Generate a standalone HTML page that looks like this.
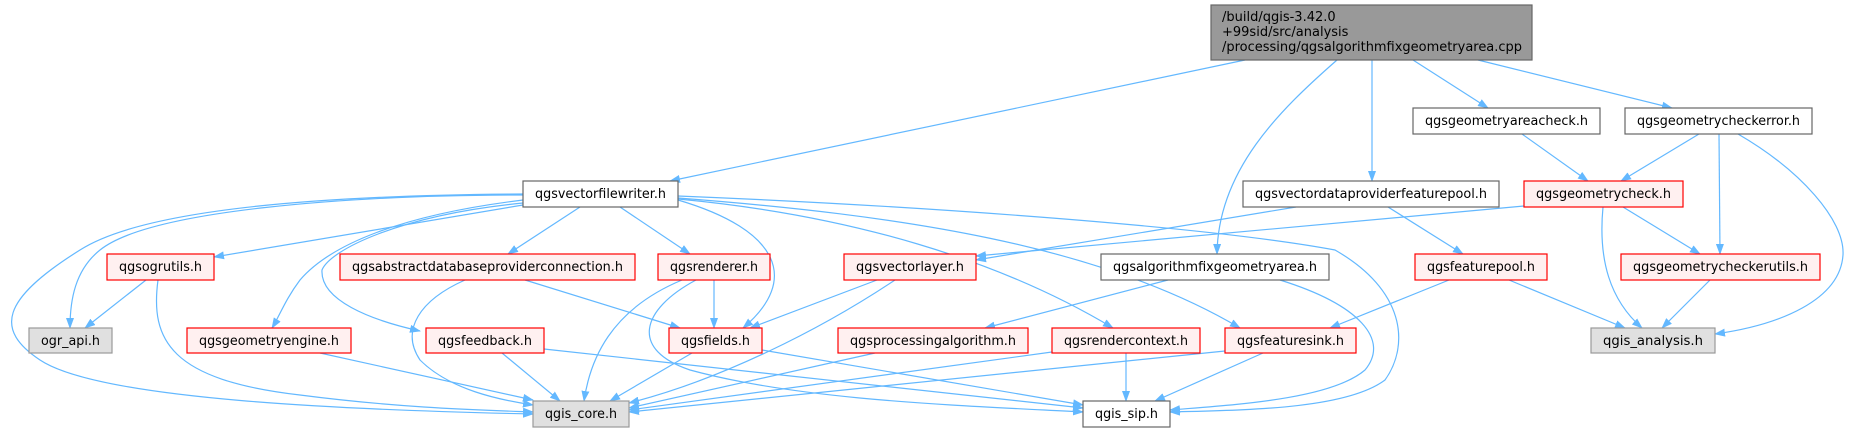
<!DOCTYPE html>
<html><head><meta charset="utf-8"><style>
html,body{margin:0;padding:0;background:#fff;}
svg{display:block;}
text{font-family:"DejaVu Sans","Liberation Sans",sans-serif;font-size:13px;fill:#000;}
.e{fill:none;stroke:#63b8ff;stroke-width:1.2;marker-end:url(#a);}
.w{fill:#fff;stroke:#666;stroke-width:1.2}
.r{fill:#fff0f0;stroke:#ff0000;stroke-width:1.2}
.g{fill:#e0e0e0;stroke:#999;stroke-width:1.2}
</style></head><body>
<svg width="1849" height="432" viewBox="0 0 1849 432" xmlns="http://www.w3.org/2000/svg">
<defs><marker id="a" markerWidth="11" markerHeight="8" refX="10" refY="4" orient="auto" markerUnits="userSpaceOnUse"><path d="M0,0 L11,4 L0,8 z" fill="#63b8ff"/></marker></defs>

<path class="e" d="M1245,60 L670,181"/>
<path class="e" d="M1337,60 C1280,110 1218,170 1217,254"/>
<path class="e" d="M1372,60 L1372,181"/>
<path class="e" d="M1413,60 L1488,108"/>
<path class="e" d="M1478,60 L1672,108"/>
<path class="e" d="M1522,134 L1588,181"/>
<path class="e" d="M1699,134 L1621,181"/>
<path class="e" d="M1719,134 L1720,254"/>
<path class="e" d="M1738,134 C1800,170 1845,220 1843,255 C1840,300 1780,325 1715,334"/>
<path class="e" d="M1524,206 L976,256"/>
<path class="e" d="M1623,207 L1700,254"/>
<path class="e" d="M1603,207 C1598,260 1610,300 1642,328"/>
<path class="e" d="M1296,207 L976,260"/>
<path class="e" d="M1388,207 L1463,254"/>
<path class="e" d="M1449,280 L1330,328"/>
<path class="e" d="M1509,280 L1625,328"/>
<path class="e" d="M1710,280 L1662,328"/>
<path class="e" d="M1168,280 L985,328"/>
<path class="e" d="M1280,280 C1360,305 1390,340 1365,370 C1330,400 1230,405 1170,410"/>
<path class="e" d="M678,196 C900,205 1200,225 1335,250 C1405,290 1410,345 1385,380 C1345,410 1240,410 1170,412"/>
<path class="e" d="M678,198 C900,215 1100,245 1240,328"/>
<path class="e" d="M678,199 C850,215 1000,260 1113,328"/>
<path class="e" d="M678,200 C780,230 800,280 743,328"/>
<path class="e" d="M620,207 L690,254"/>
<path class="e" d="M580,207 L508,254"/>
<path class="e" d="M1263,353 L1155,401"/>
<path class="e" d="M1225,351 L629,412"/>
<path class="e" d="M1126,353 L1126,401"/>
<path class="e" d="M1052,352 L629,410"/>
<path class="e" d="M875,353 L629,408"/>
<path class="e" d="M877,280 L750,328"/>
<path class="e" d="M895,280 C820,330 720,380 629,403"/>
<path class="e" d="M714,280 L714,328"/>
<path class="e" d="M682,280 C610,310 590,360 584,401"/>
<path class="e" d="M696,280 C640,310 630,350 690,370 C800,400 950,405 1083,412"/>
<path class="e" d="M692,353 L610,401"/>
<path class="e" d="M762,350 L1083,405"/>
<path class="e" d="M502,353 L560,401"/>
<path class="e" d="M544,349 L1083,408"/>
<path class="e" d="M320,353 L533,400"/>
<path class="e" d="M465,280 C420,300 400,330 420,360 C450,390 500,400 533,405"/>
<path class="e" d="M525,280 L680,328"/>
<path class="e" d="M146,280 L85,328"/>
<path class="e" d="M158,280 C150,340 170,380 300,395 C400,408 480,410 533,412"/>
<path class="e" d="M523,205 L214,257"/>
<path class="e" d="M523,195 C350,195 150,210 100,250 C75,270 70,300 70,328"/>
<path class="e" d="M523,194 C350,195 150,205 80,250 C0,300 -5,330 40,360 C100,400 350,410 533,414"/>
<path class="e" d="M523,200 C400,215 330,245 300,280 C285,300 280,315 272,328"/>
<path class="e" d="M523,203 C400,215 330,250 322,270 C320,300 370,320 420,331"/>

<rect x="1211" y="5" width="321" height="55" fill="#999" stroke="#666" stroke-width="1.2"/>
<text x="1222" y="21">/build/qgis-3.42.0</text>
<text x="1222" y="36">+99sid/src/analysis</text>
<text x="1222" y="51" textLength="300" lengthAdjust="spacingAndGlyphs">/processing/qgsalgorithmfixgeometryarea.cpp</text>

<rect class="w" x="1413" y="108" width="187" height="26"/><text x="1425" y="125" textLength="163" lengthAdjust="spacingAndGlyphs">qgsgeometryareacheck.h</text>
<rect class="w" x="1625" y="108" width="187" height="26"/><text x="1637" y="125" textLength="163" lengthAdjust="spacingAndGlyphs">qgsgeometrycheckerror.h</text>
<rect class="w" x="523" y="181" width="155" height="26"/><text x="535" y="198" textLength="131" lengthAdjust="spacingAndGlyphs">qgsvectorfilewriter.h</text>
<rect class="w" x="1243" y="181" width="256" height="26"/><text x="1255" y="198" textLength="232" lengthAdjust="spacingAndGlyphs">qgsvectordataproviderfeaturepool.h</text>
<rect class="r" x="1524" y="181" width="159" height="26"/><text x="1536" y="198" textLength="135" lengthAdjust="spacingAndGlyphs">qgsgeometrycheck.h</text>
<rect class="r" x="107" y="254" width="107" height="26"/><text x="119" y="271" textLength="83" lengthAdjust="spacingAndGlyphs">qgsogrutils.h</text>
<rect class="r" x="340" y="254" width="295" height="26"/><text x="352" y="271" textLength="271" lengthAdjust="spacingAndGlyphs">qgsabstractdatabaseproviderconnection.h</text>
<rect class="r" x="658" y="254" width="112" height="26"/><text x="670" y="271" textLength="88" lengthAdjust="spacingAndGlyphs">qgsrenderer.h</text>
<rect class="r" x="844" y="254" width="132" height="26"/><text x="856" y="271" textLength="108" lengthAdjust="spacingAndGlyphs">qgsvectorlayer.h</text>
<rect class="w" x="1101" y="254" width="228" height="26"/><text x="1113" y="271" textLength="204" lengthAdjust="spacingAndGlyphs">qgsalgorithmfixgeometryarea.h</text>
<rect class="r" x="1415" y="254" width="132" height="26"/><text x="1427" y="271" textLength="108" lengthAdjust="spacingAndGlyphs">qgsfeaturepool.h</text>
<rect class="r" x="1621" y="254" width="199" height="26"/><text x="1633" y="271" textLength="175" lengthAdjust="spacingAndGlyphs">qgsgeometrycheckerutils.h</text>
<rect class="g" x="29" y="328" width="83" height="25"/><text x="41" y="345" textLength="59" lengthAdjust="spacingAndGlyphs">ogr_api.h</text>
<rect class="r" x="187" y="328" width="164" height="25"/><text x="199" y="345" textLength="140" lengthAdjust="spacingAndGlyphs">qgsgeometryengine.h</text>
<rect class="r" x="426" y="328" width="118" height="25"/><text x="438" y="345" textLength="94" lengthAdjust="spacingAndGlyphs">qgsfeedback.h</text>
<rect class="r" x="669" y="328" width="93" height="25"/><text x="681" y="345" textLength="69" lengthAdjust="spacingAndGlyphs">qgsfields.h</text>
<rect class="r" x="838" y="328" width="190" height="25"/><text x="850" y="345" textLength="166" lengthAdjust="spacingAndGlyphs">qgsprocessingalgorithm.h</text>
<rect class="r" x="1052" y="328" width="148" height="25"/><text x="1064" y="345" textLength="124" lengthAdjust="spacingAndGlyphs">qgsrendercontext.h</text>
<rect class="r" x="1225" y="328" width="131" height="25"/><text x="1237" y="345" textLength="107" lengthAdjust="spacingAndGlyphs">qgsfeaturesink.h</text>
<rect class="g" x="1591" y="328" width="124" height="25"/><text x="1603" y="345" textLength="100" lengthAdjust="spacingAndGlyphs">qgis_analysis.h</text>
<rect class="g" x="533" y="401" width="96" height="26"/><text x="545" y="418" textLength="72" lengthAdjust="spacingAndGlyphs">qgis_core.h</text>
<rect class="w" x="1083" y="401" width="87" height="26"/><text x="1095" y="418" textLength="63" lengthAdjust="spacingAndGlyphs">qgis_sip.h</text>
</svg>
</body></html>
